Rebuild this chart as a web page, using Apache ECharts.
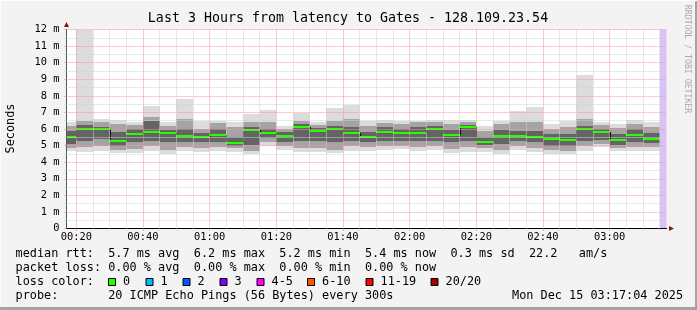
<!DOCTYPE html>
<html><head><meta charset="utf-8">
<script src="https://cdn.jsdelivr.net/npm/echarts@6/dist/echarts.min.js"></script>
<style>html,body{margin:0;padding:0;background:#f3f3f3}#c{width:697px;height:310px}</style>
</head><body><div id="c"></div><script>
// ---------- data ----------
const chartTitle = 'Last 3 Hours from latency to Gates - 128.109.23.54';
const yAxisTitle = 'Seconds';
const axisStart = 17.07;   // minutes after 00:00 (00:17:04)
const axisEnd = 197.07;    // 03:17:04
const yMin = 0, yMax = 12; // milliseconds
const bucketMinutes = 5;
const xLabelTimes = [20, 40, 60, 80, 100, 120, 140, 160, 180];
const xMinorTimes = [25, 30, 35, 45, 50, 55, 65, 70, 75, 85, 90, 95, 105, 110, 115, 125, 130, 135, 145, 150, 155, 165, 170, 175, 185, 190, 195];
const bucketStart = [15, 20, 25, 30, 35, 40, 45, 50, 55, 60, 65, 70, 75, 80, 85, 90, 95, 100, 105, 110, 115, 120, 125, 130, 135, 140, 145, 150, 155, 160, 165, 170, 175, 180, 185, 190];
const pingMin    = [4.70, 4.60, 4.70, 4.55, 4.55, 4.70, 4.50, 4.66, 4.60, 4.66, 4.60, 4.48, 5.00, 4.74, 4.64, 4.60, 4.54, 4.70, 4.70, 4.74, 4.80, 4.66, 4.74, 4.54, 4.60, 4.60, 4.50, 4.74, 4.60, 4.50, 4.48, 4.70, 4.90, 4.66, 4.66, 4.66];
const pingP10    = [4.85, 4.90, 4.95, 4.75, 4.80, 4.95, 4.75, 4.90, 4.85, 4.90, 4.85, 4.70, 5.20, 4.95, 4.85, 4.85, 4.75, 4.95, 4.90, 4.95, 5.00, 4.90, 4.95, 4.80, 4.90, 4.85, 4.75, 4.95, 4.85, 4.75, 4.70, 4.95, 5.10, 4.85, 4.90, 4.90];
const pingP25    = [5.10, 5.30, 5.40, 4.95, 5.20, 5.30, 5.20, 5.20, 5.20, 5.20, 5.00, 5.05, 5.45, 5.20, 5.30, 5.30, 5.20, 5.30, 5.20, 5.30, 5.30, 5.25, 5.30, 5.20, 5.30, 5.05, 5.10, 5.25, 5.20, 5.00, 5.00, 5.30, 5.35, 5.05, 5.20, 5.15];
const pingMedian = [5.51, 5.97, 5.97, 5.25, 5.67, 5.79, 5.75, 5.55, 5.51, 5.63, 5.15, 5.91, 5.77, 5.55, 6.15, 5.87, 6.01, 5.73, 5.49, 5.79, 5.75, 5.75, 6.03, 5.65, 6.11, 5.19, 5.55, 5.55, 5.51, 5.37, 5.31, 6.03, 5.79, 5.31, 5.63, 5.39];
const pingP75    = [5.90, 6.25, 6.10, 5.80, 6.00, 6.50, 5.95, 6.00, 5.75, 6.00, 5.50, 6.10, 6.00, 5.80, 6.30, 6.05, 6.20, 6.10, 5.80, 6.10, 6.00, 6.10, 6.20, 5.95, 6.25, 5.50, 5.95, 5.90, 5.90, 5.70, 5.70, 6.20, 6.00, 5.70, 6.00, 5.75];
const pingP90    = [6.20, 6.50, 6.40, 6.30, 6.25, 6.70, 6.20, 6.60, 6.00, 6.35, 6.10, 6.45, 6.40, 6.00, 6.50, 6.25, 6.50, 6.60, 6.20, 6.35, 6.30, 6.40, 6.40, 6.30, 6.45, 5.90, 6.30, 6.40, 6.40, 6.00, 6.10, 6.60, 6.25, 6.05, 6.30, 6.10];
const pingMax    = [6.40, 12.0, 6.60, 6.57, 6.45, 7.38, 6.45, 7.78, 6.47, 6.51, 6.44, 6.89, 7.16, 6.21, 6.95, 6.41, 7.26, 7.46, 6.51, 6.57, 6.51, 6.51, 6.55, 6.57, 6.55, 6.21, 6.51, 7.06, 7.32, 6.31, 6.51, 9.23, 6.44, 6.31, 6.57, 6.45];
const unknownSpan = [195, 197.07];
const rttAvg = '5.7', rttMax = '6.2', rttMin = '5.2', rttNow = '5.4', rttSd = '0.3', rttAmS = '22.2';
const lossAvg = '0.00', lossMax = '0.00', lossMin = '0.00', lossNow = '0.00';
const lossLabels = ['0', '1', '2', '3', '4-5', '6-10', '11-19', '20/20'];
const lossColors = ['#26ff00', '#00b8ff', '#0059ff', '#7e00ff', '#ff00ff', '#ff5500', '#ff0000', '#a10000'];
const probeText = '20 ICMP Echo Pings (56 Bytes) every 300s';
const dateText = 'Mon Dec 15 03:17:04 2025';
const watermark = 'RRDTOOL / TOBI OETIKER';

// ---------- layout / style ----------
const MONO = "'DejaVu Sans Mono', monospace";
const lossBoxX = [108, 145.5, 182.5, 219.5, 256.5, 307, 365.5, 430.5];
const smokeFills = ['#dcdcdc', '#a4a4a4', '#646464', '#646464', '#a4a4a4', '#dcdcdc'];
const MAJOR = '#f19a9a', MINOR = '#d2d2d2';

function hhmm(v) {
  const h = Math.floor(v / 60), m = Math.round(v - h * 60);
  return String(h).padStart(2, '0') + ':' + String(m).padStart(2, '0');
}

const chart = echarts.init(document.getElementById('c'), null, {renderer: 'canvas', width: 697, height: 310});
const smokeData = bucketStart.map((t, i) => [t, pingMin[i], pingP10[i], pingP25[i], pingMedian[i], pingP75[i], pingP90[i], pingMax[i]]);

function clipRect(r, cs) { return echarts.graphic.clipRectByRect(r, cs); }

const textStyleBase = {fontFamily: MONO, fontSize: 11.85, fill: '#000'};
const rowY = [254.3, 268.2, 282.2, 296.4];
const graphics = [
  {type: 'text', x: 348, y: 19, z: 100, style: {text: chartTitle, fontFamily: MONO, fontSize: 13.3, fill: '#000', align: 'center', verticalAlign: 'middle'}},
  {type: 'text', x: 10.5, y: 128.5, rotation: Math.PI / 2, z: 100, style: {text: yAxisTitle, fontFamily: MONO, fontSize: 11.85, fill: '#000', align: 'center', verticalAlign: 'middle'}},
  {type: 'text', x: 687.5, y: 59, rotation: -Math.PI / 2, z: 100, style: {text: watermark, fontFamily: MONO, fontSize: 8.2, fill: '#aaaaaa', align: 'center', verticalAlign: 'middle'}},
  {type: 'text', x: 15.5, y: rowY[0], z: 100, style: Object.assign({}, textStyleBase, {verticalAlign: 'middle',
    text: 'median rtt:  ' + rttAvg + ' ms avg  ' + rttMax + ' ms max  ' + rttMin + ' ms min  ' + rttNow + ' ms now  ' + rttSd + ' ms sd  ' + rttAmS + '   am/s'})},
  {type: 'text', x: 15.5, y: rowY[1], z: 100, style: Object.assign({}, textStyleBase, {verticalAlign: 'middle',
    text: 'packet loss: ' + lossAvg + ' % avg  ' + lossMax + ' % max  ' + lossMin + ' % min  ' + lossNow + ' % now'})},
  {type: 'text', x: 15.5, y: rowY[2], z: 100, style: Object.assign({}, textStyleBase, {verticalAlign: 'middle', text: 'loss color:'})},
  {type: 'text', x: 15.5, y: rowY[3], z: 100, style: Object.assign({}, textStyleBase, {verticalAlign: 'middle', text: 'probe:       ' + probeText})},
  {type: 'text', x: 512, y: rowY[3], z: 100, style: Object.assign({}, textStyleBase, {verticalAlign: 'middle', text: dateText})},
  {type: 'rect', z: 100, shape: {x: 695, y: 0, width: 2, height: 310}, style: {fill: '#a4a4a4'}},
  {type: 'rect', z: 100, shape: {x: 0, y: 307, width: 697, height: 3}, style: {fill: '#a4a4a4'}},
  {type: 'rect', z: 100, shape: {x: 0, y: 0, width: 697, height: 1}, style: {fill: '#fdfdfd'}},
  {type: 'rect', z: 100, shape: {x: 0, y: 0, width: 1, height: 307}, style: {fill: '#fdfdfd'}}
];
lossLabels.forEach((lab, i) => {
  graphics.push({type: 'rect', z: 100, shape: {x: lossBoxX[i] + 0.5, y: 278.5, width: 7, height: 7}, style: {fill: lossColors[i], stroke: '#000', lineWidth: 1}});
  graphics.push({type: 'text', x: lossBoxX[i] + 15, y: rowY[2], z: 100, style: Object.assign({}, textStyleBase, {verticalAlign: 'middle', text: lab})});
});

const option = {
  backgroundColor: '#f3f3f3',
  animation: false,
  grid: {left: 66.5, right: 30.5, top: 29.5, bottom: 81.5, show: true, backgroundColor: '#ffffff', borderWidth: 0, containLabel: false, outerBoundsMode: 'none'},
  xAxis: [
    {
      type: 'value', min: axisStart, max: axisEnd, position: 'bottom', z: 3,
      axisLine: {show: true, onZero: false, lineStyle: {color: '#000', width: 1}},
      axisTick: {show: true, customValues: xLabelTimes, length: 2, lineStyle: {color: MAJOR}},
      axisLabel: {show: true, customValues: xLabelTimes, formatter: hhmm, fontFamily: MONO, fontSize: 10.4, color: '#000', margin: 4},
      splitLine: {show: true, lineStyle: {color: MAJOR, type: [1, 1], width: 1}}
    },
    {
      type: 'value', min: axisStart, max: axisEnd, position: 'bottom', offset: 0, z: 3,
      axisLine: {show: true, onZero: false, lineStyle: {color: '#8b1010', opacity: 0}, symbol: ['none', 'triangle'], symbolSize: [5, 5], symbolOffset: [0, 5]},
      axisTick: {show: true, customValues: xMinorTimes, length: 2, lineStyle: {color: MINOR}},
      axisLabel: {show: false},
      splitLine: {show: true, lineStyle: {color: MINOR, type: [1, 1], width: 1}}
    }
  ],
  yAxis: [
    {
      type: 'value', min: yMin, max: yMax, interval: 1, z: 3,
      axisLine: {show: true, onZero: false, lineStyle: {color: '#555', width: 1}},
      axisTick: {show: true, length: 2, lineStyle: {color: MAJOR}},
      minorTick: {show: true, splitNumber: 2, length: 2, lineStyle: {color: MINOR}},
      axisLabel: {formatter: v => v === 0 ? '0' : v + ' m', fontFamily: MONO, fontSize: 10.4, color: '#000', margin: 7},
      splitLine: {show: true, lineStyle: {color: MAJOR, type: [1, 1], width: 1}},
      minorSplitLine: {show: true, lineStyle: {color: MINOR, type: [1, 1], width: 1}}
    },
    {
      type: 'value', min: yMin, max: yMax, interval: 1, position: 'left', offset: 0, z: 3,
      axisLine: {show: true, onZero: false, lineStyle: {color: '#8b1010', opacity: 0}, symbol: ['none', 'triangle'], symbolSize: [5, 5], symbolOffset: [0, 5]},
      axisTick: {show: false}, axisLabel: {show: false}, splitLine: {show: false}
    }
  ],
  series: [
    {
      type: 'custom', coordinateSystem: 'cartesian2d', xAxisIndex: 0, yAxisIndex: 0, z: 2, silent: true,
      data: smokeData,
      encode: {x: 0, y: [1, 2, 3, 4, 5, 6, 7]},
      renderItem: function (params, api) {
        const cs = params.coordSys;
        const i = params.dataIndex;
        const t = api.value(0);
        const x0 = Math.round(api.coord([t, 0])[0]);
        const x1 = Math.round(api.coord([t + bucketMinutes, 0])[0]);
        const ys = [1, 2, 3, 4, 5, 6, 7].map(k => Math.round(api.coord([t, api.value(k)])[1]));
        const children = [];
        for (let b = 0; b < 6; b++) {
          const lo = ys[b], hi = ys[b + 1];
          const r = clipRect({x: x0, y: hi, width: x1 - x0, height: lo - hi}, cs);
          if (r) children.push({type: 'rect', shape: r, style: {fill: smokeFills[b]}});
        }
        const ym = Math.round(api.coord([t, api.value(4)])[1]);
        if (i > 0 && x0 >= cs.x) {
          const yp = Math.round(api.coord([t, pingMedian[i - 1]])[1]);
          children.push({type: 'line', shape: {x1: x0 + 0.5, y1: yp, x2: x0 + 0.5, y2: ym}, style: {stroke: '#111', lineWidth: 1}});
        }
        const g = clipRect({x: x0, y: ym - 1, width: x1 - x0, height: 2}, cs);
        if (g) children.push({type: 'rect', shape: g, style: {fill: lossColors[0]}});
        return {type: 'group', children: children};
      }
    },
    {
      type: 'custom', coordinateSystem: 'cartesian2d', xAxisIndex: 0, yAxisIndex: 0, z: 2, silent: true,
      data: [unknownSpan],
      encode: {x: [0, 1]},
      renderItem: function (params, api) {
        const cs = params.coordSys;
        const p0 = api.coord([api.value(0), yMax]);
        const p1 = api.coord([api.value(1), yMin]);
        const r = clipRect({x: Math.round(p0[0]), y: p0[1], width: p1[0] - Math.round(p0[0]), height: p1[1] - p0[1]}, cs);
        return r ? {type: 'rect', shape: r, style: {fill: '#d8c2f8'}} : null;
      }
    }
  ],
  graphic: graphics
};
chart.setOption(option);
</script></body></html>
